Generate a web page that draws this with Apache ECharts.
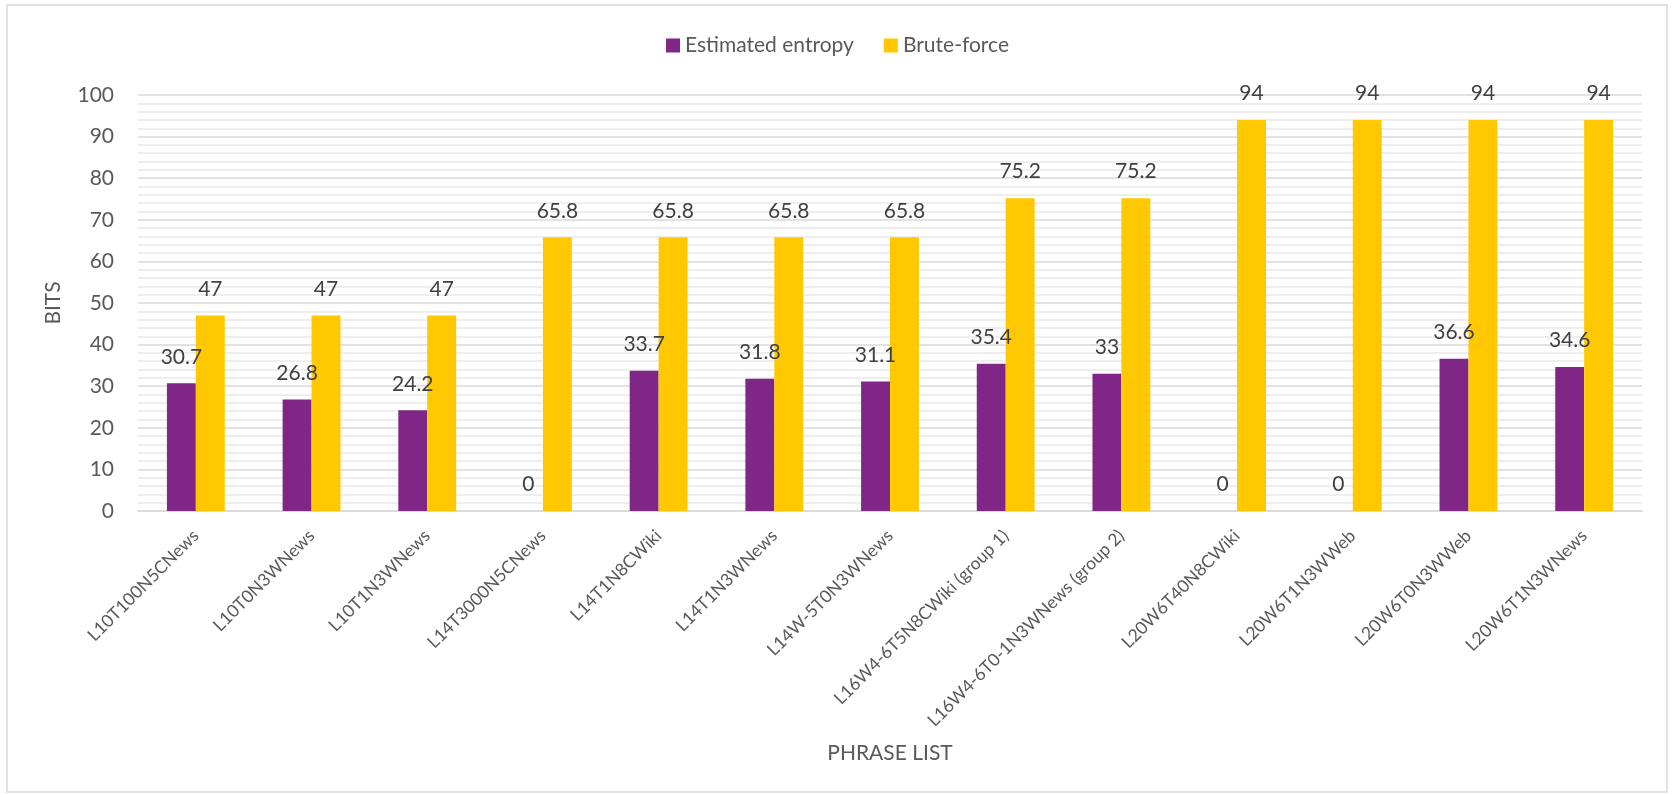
<!DOCTYPE html>
<html>
<head>
<meta charset="utf-8">
<script src="https://cdn.jsdelivr.net/npm/echarts@6/dist/echarts.min.js"></script>
<style>
html,body{margin:0;padding:0;background:#fff;}
#chart{width:1675px;height:794px;}
</style>
</head>
<body>
<div id="chart"></div>
<script>
const categories = [
  'L10T100N5CNews','L10T0N3WNews','L10T1N3WNews','L14T3000N5CNews','L14T1N8CWiki',
  'L14T1N3WNews','L14W-5T0N3WNews','L16W4-6T5N8CWiki (group 1)','L16W4-6T0-1N3WNews (group 2)',
  'L20W6T40N8CWiki','L20W6T1N3WWeb','L20W6T0N3WWeb','L20W6T1N3WNews'
];
const estimatedEntropy = [30.7, 26.8, 24.2, 0, 33.7, 31.8, 31.1, 35.4, 33, 0, 0, 36.6, 34.6];
const bruteForce = [47, 47, 47, 65.8, 65.8, 65.8, 65.8, 75.2, 75.2, 94, 94, 94, 94];
const yTicks = { min: 0, max: 100, interval: 10 };

const FONT = 'Lato, "Open Sans", sans-serif';
const chart = echarts.init(document.getElementById('chart'), null, { renderer: 'canvas' });
const labelStyle = {
  show: true, position: 'top', distance: 16,
  color: '#404040', fontSize: 21, fontFamily: FONT
};
chart.setOption({
  animation: false,
  backgroundColor: '#fff',
  textStyle: { fontFamily: FONT },
  graphic: [{
    type: 'rect', silent: true, z: -10,
    shape: { x: 7, y: 5, width: 1660, height: 787 },
    style: { fill: 'none', stroke: '#d9d9d9', lineWidth: 1.5 }
  }],
  legend: {
    top: 30, left: 'center',
    itemWidth: 14, itemHeight: 14, itemGap: 30,
    icon: 'rect',
    textStyle: { color: '#595959', fontSize: 21, fontFamily: FONT },
    data: ['Estimated entropy', 'Brute-force']
  },
  grid: { left: 138, right: 33, top: 95, bottom: 283, containLabel: false },
  xAxis: {
    type: 'category',
    data: categories,
    name: 'PHRASE LIST',
    nameLocation: 'middle',
    nameGap: 232,
    nameTextStyle: { color: '#595959', fontSize: 21, fontFamily: FONT },
    axisLine: { show: true, lineStyle: { color: '#d9d9d9', width: 1.5 } },
    axisTick: { show: false },
    axisLabel: {
      rotate: 45, margin: 22, color: '#595959', fontSize: 17.5, fontFamily: FONT,
      interval: 0
    }
  },
  yAxis: {
    type: 'value',
    min: yTicks.min, max: yTicks.max, interval: yTicks.interval,
    name: 'BITS',
    nameLocation: 'middle',
    nameGap: 74,
    nameRotate: 90,
    nameTextStyle: { color: '#595959', fontSize: 21, fontFamily: FONT },
    axisLine: { show: false },
    axisTick: { show: false },
    axisLabel: { margin: 24, color: '#595959', fontSize: 21, fontFamily: FONT },
    splitLine: { show: true, lineStyle: { color: '#d9d9d9', width: 1.5 } },
    minorTick: { show: false, splitNumber: 5 },
    minorSplitLine: { show: true, lineStyle: { color: '#eeeeee', width: 2 } }
  },
  series: [
    {
      name: 'Estimated entropy', type: 'bar', data: estimatedEntropy,
      barGap: '0%', barCategoryGap: '50%',
      itemStyle: { color: '#7f2687' },
      label: labelStyle
    },
    {
      name: 'Brute-force', type: 'bar', data: bruteForce,
      barGap: '0%', barCategoryGap: '50%',
      itemStyle: { color: '#ffc800' },
      label: labelStyle
    }
  ]
});
</script>
</body>
</html>
